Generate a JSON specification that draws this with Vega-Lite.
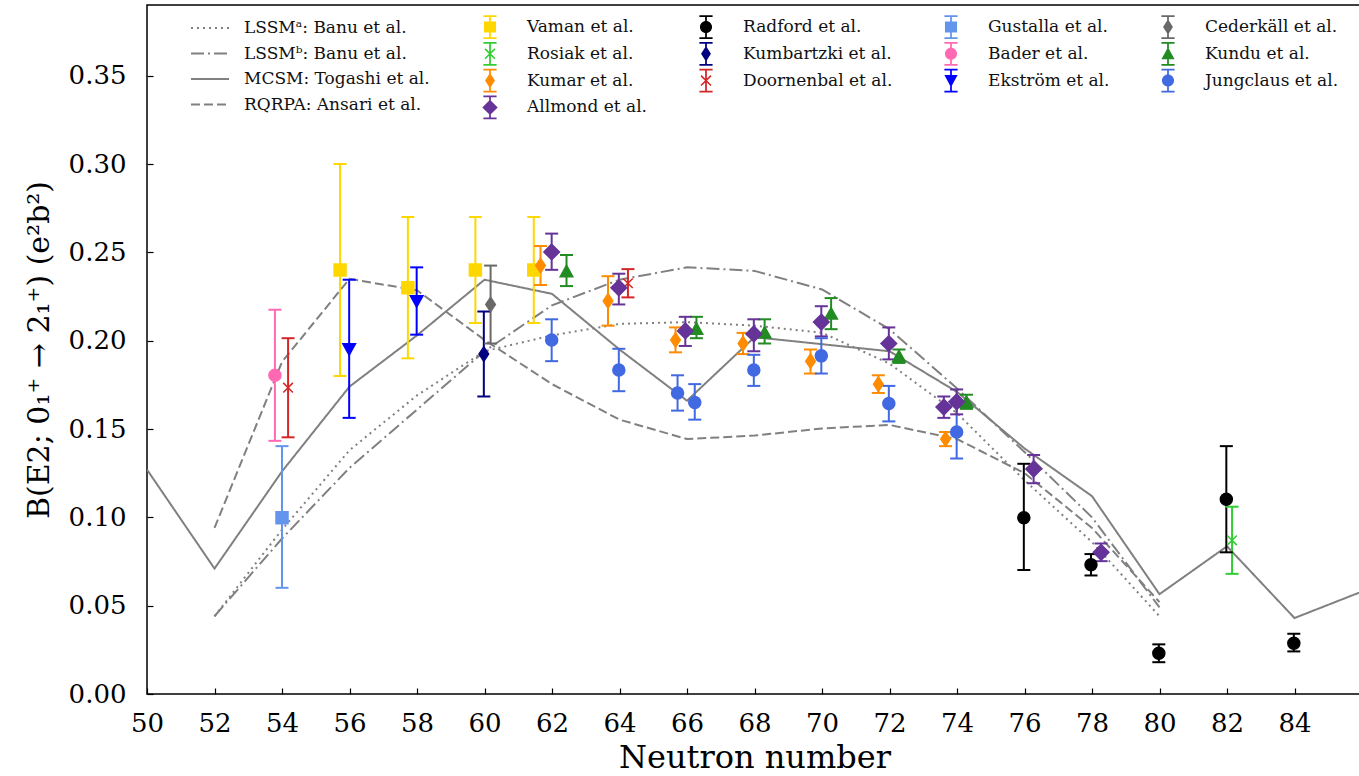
{
  "$schema": "https://vega.github.io/schema/vega-lite/v6.json",
  "width": 1215,
  "height": 689,
  "autosize": {"type": "none"},
  "padding": {"left": 147, "top": 5, "right": 0, "bottom": 82},
  "background": "white",
  "config": {
    "view": {"stroke": "black", "strokeWidth": 1.5},
    "font": "DejaVu Serif",
    "axis": {"grid": false, "domain": false, "ticks": true, "tickColor": "black", "tickSize": -6, "tickWidth": 1.2, "labelFlush": false,
      "labelFont": "DejaVu Serif", "labelFontSize": 26, "labelColor": "black",
      "titleFont": "DejaVu Serif", "titleFontWeight": "normal", "titleColor": "black"},
    "legend": {"labelFont": "DejaVu Serif", "labelFontSize": 17, "labelColor": "#111", "orient": "none", "padding": 0, "labelLimit": 400}
  },
  "datasets": {
    "theory": [
      {"model": "LSSMᵃ: Banu et al.", "N": 52, "B": 0.044},
      {"model": "LSSMᵃ: Banu et al.", "N": 54, "B": 0.093},
      {"model": "LSSMᵃ: Banu et al.", "N": 56, "B": 0.138},
      {"model": "LSSMᵃ: Banu et al.", "N": 58, "B": 0.169},
      {"model": "LSSMᵃ: Banu et al.", "N": 60, "B": 0.194},
      {"model": "LSSMᵃ: Banu et al.", "N": 62, "B": 0.203},
      {"model": "LSSMᵃ: Banu et al.", "N": 64, "B": 0.2095},
      {"model": "LSSMᵃ: Banu et al.", "N": 66, "B": 0.2105},
      {"model": "LSSMᵃ: Banu et al.", "N": 68, "B": 0.2085},
      {"model": "LSSMᵃ: Banu et al.", "N": 70, "B": 0.2045},
      {"model": "LSSMᵃ: Banu et al.", "N": 72, "B": 0.187},
      {"model": "LSSMᵃ: Banu et al.", "N": 74, "B": 0.159},
      {"model": "LSSMᵃ: Banu et al.", "N": 76, "B": 0.121},
      {"model": "LSSMᵃ: Banu et al.", "N": 78, "B": 0.086},
      {"model": "LSSMᵃ: Banu et al.", "N": 80, "B": 0.044},
      {"model": "LSSMᵇ: Banu et al.", "N": 52, "B": 0.044},
      {"model": "LSSMᵇ: Banu et al.", "N": 54, "B": 0.088},
      {"model": "LSSMᵇ: Banu et al.", "N": 56, "B": 0.128},
      {"model": "LSSMᵇ: Banu et al.", "N": 58, "B": 0.161},
      {"model": "LSSMᵇ: Banu et al.", "N": 60, "B": 0.194},
      {"model": "LSSMᵇ: Banu et al.", "N": 62, "B": 0.220},
      {"model": "LSSMᵇ: Banu et al.", "N": 64, "B": 0.2345},
      {"model": "LSSMᵇ: Banu et al.", "N": 66, "B": 0.2415},
      {"model": "LSSMᵇ: Banu et al.", "N": 68, "B": 0.2395},
      {"model": "LSSMᵇ: Banu et al.", "N": 70, "B": 0.229},
      {"model": "LSSMᵇ: Banu et al.", "N": 72, "B": 0.2065},
      {"model": "LSSMᵇ: Banu et al.", "N": 74, "B": 0.173},
      {"model": "LSSMᵇ: Banu et al.", "N": 76, "B": 0.137},
      {"model": "LSSMᵇ: Banu et al.", "N": 78, "B": 0.100},
      {"model": "LSSMᵇ: Banu et al.", "N": 80, "B": 0.049},
      {"model": "MCSM: Togashi et al.", "N": 50, "B": 0.127},
      {"model": "MCSM: Togashi et al.", "N": 52, "B": 0.071},
      {"model": "MCSM: Togashi et al.", "N": 54, "B": 0.126},
      {"model": "MCSM: Togashi et al.", "N": 56, "B": 0.174},
      {"model": "MCSM: Togashi et al.", "N": 58, "B": 0.203},
      {"model": "MCSM: Togashi et al.", "N": 60, "B": 0.2345},
      {"model": "MCSM: Togashi et al.", "N": 62, "B": 0.2265},
      {"model": "MCSM: Togashi et al.", "N": 64, "B": 0.195},
      {"model": "MCSM: Togashi et al.", "N": 66, "B": 0.166},
      {"model": "MCSM: Togashi et al.", "N": 68, "B": 0.202},
      {"model": "MCSM: Togashi et al.", "N": 70, "B": 0.198},
      {"model": "MCSM: Togashi et al.", "N": 72, "B": 0.194},
      {"model": "MCSM: Togashi et al.", "N": 74, "B": 0.171},
      {"model": "MCSM: Togashi et al.", "N": 76, "B": 0.139},
      {"model": "MCSM: Togashi et al.", "N": 78, "B": 0.112},
      {"model": "MCSM: Togashi et al.", "N": 80, "B": 0.0565},
      {"model": "MCSM: Togashi et al.", "N": 82, "B": 0.0836},
      {"model": "MCSM: Togashi et al.", "N": 84, "B": 0.043},
      {"model": "MCSM: Togashi et al.", "N": 86, "B": 0.058},
      {"model": "RQRPA: Ansari et al.", "N": 52, "B": 0.094},
      {"model": "RQRPA: Ansari et al.", "N": 54, "B": 0.188},
      {"model": "RQRPA: Ansari et al.", "N": 56, "B": 0.235},
      {"model": "RQRPA: Ansari et al.", "N": 58, "B": 0.2285},
      {"model": "RQRPA: Ansari et al.", "N": 60, "B": 0.2004},
      {"model": "RQRPA: Ansari et al.", "N": 62, "B": 0.1754},
      {"model": "RQRPA: Ansari et al.", "N": 64, "B": 0.1553},
      {"model": "RQRPA: Ansari et al.", "N": 66, "B": 0.1443},
      {"model": "RQRPA: Ansari et al.", "N": 68, "B": 0.1463},
      {"model": "RQRPA: Ansari et al.", "N": 70, "B": 0.1503},
      {"model": "RQRPA: Ansari et al.", "N": 72, "B": 0.1523},
      {"model": "RQRPA: Ansari et al.", "N": 74, "B": 0.1443},
      {"model": "RQRPA: Ansari et al.", "N": 76, "B": 0.125},
      {"model": "RQRPA: Ansari et al.", "N": 78, "B": 0.094},
      {"model": "RQRPA: Ansari et al.", "N": 80, "B": 0.052}
    ],
    "exp": [
      {"ref": "Vaman et al.", "N": 55.72, "B": 0.240, "lo": 0.180, "hi": 0.300},
      {"ref": "Vaman et al.", "N": 57.73, "B": 0.230, "lo": 0.190, "hi": 0.270},
      {"ref": "Vaman et al.", "N": 59.73, "B": 0.240, "lo": 0.210, "hi": 0.270},
      {"ref": "Vaman et al.", "N": 61.46, "B": 0.240, "lo": 0.210, "hi": 0.270},
      {"ref": "Rosiak et al.", "N": 82.15, "B": 0.087, "lo": 0.068, "hi": 0.106},
      {"ref": "Kumar et al.", "N": 61.66, "B": 0.2425, "lo": 0.2315, "hi": 0.2536},
      {"ref": "Kumar et al.", "N": 63.66, "B": 0.2225, "lo": 0.2085, "hi": 0.2365},
      {"ref": "Kumar et al.", "N": 65.66, "B": 0.2004, "lo": 0.1934, "hi": 0.2075},
      {"ref": "Kumar et al.", "N": 67.66, "B": 0.1984, "lo": 0.1924, "hi": 0.2044},
      {"ref": "Kumar et al.", "N": 69.66, "B": 0.1884, "lo": 0.1814, "hi": 0.1950},
      {"ref": "Kumar et al.", "N": 71.67, "B": 0.1754, "lo": 0.1704, "hi": 0.1804},
      {"ref": "Kumar et al.", "N": 73.66, "B": 0.1443, "lo": 0.1403, "hi": 0.1483},
      {"ref": "Radford et al.", "N": 75.98, "B": 0.0998, "lo": 0.0702, "hi": 0.1303},
      {"ref": "Radford et al.", "N": 77.97, "B": 0.0732, "lo": 0.0671, "hi": 0.0792},
      {"ref": "Radford et al.", "N": 79.98, "B": 0.0231, "lo": 0.0180, "hi": 0.0281},
      {"ref": "Radford et al.", "N": 81.98, "B": 0.1102, "lo": 0.0802, "hi": 0.1403},
      {"ref": "Radford et al.", "N": 83.98, "B": 0.0287, "lo": 0.0241, "hi": 0.0341},
      {"ref": "Kumbartzki et al.", "N": 59.98, "B": 0.1924, "lo": 0.1684, "hi": 0.2165},
      {"ref": "Doornenbal et al.", "N": 54.18, "B": 0.1734, "lo": 0.1453, "hi": 0.2014},
      {"ref": "Doornenbal et al.", "N": 64.25, "B": 0.2325, "lo": 0.2245, "hi": 0.2405},
      {"ref": "Gustalla et al.", "N": 54.0, "B": 0.0998, "lo": 0.0601, "hi": 0.1403},
      {"ref": "Bader et al.", "N": 53.79, "B": 0.1804, "lo": 0.1433, "hi": 0.2175},
      {"ref": "Ekström et al.", "N": 55.99, "B": 0.1954, "lo": 0.1563, "hi": 0.2345},
      {"ref": "Ekström et al.", "N": 57.99, "B": 0.2225, "lo": 0.2034, "hi": 0.2415},
      {"ref": "Cederkäll et al.", "N": 60.18, "B": 0.2205, "lo": 0.1984, "hi": 0.2425},
      {"ref": "Kundu et al.", "N": 62.43, "B": 0.2391, "lo": 0.2309, "hi": 0.2485},
      {"ref": "Kundu et al.", "N": 66.28, "B": 0.2065, "lo": 0.2014, "hi": 0.2135},
      {"ref": "Kundu et al.", "N": 68.30, "B": 0.2044, "lo": 0.1984, "hi": 0.2121},
      {"ref": "Kundu et al.", "N": 70.27, "B": 0.2151, "lo": 0.2065, "hi": 0.2241},
      {"ref": "Kundu et al.", "N": 72.28, "B": 0.1910, "lo": 0.1874, "hi": 0.1950},
      {"ref": "Kundu et al.", "N": 74.28, "B": 0.1650, "lo": 0.1614, "hi": 0.1694},
      {"ref": "Jungclaus et al.", "N": 61.99, "B": 0.2004, "lo": 0.1884, "hi": 0.2121},
      {"ref": "Jungclaus et al.", "N": 63.98, "B": 0.1834, "lo": 0.1714, "hi": 0.1954},
      {"ref": "Jungclaus et al.", "N": 65.72, "B": 0.1704, "lo": 0.1604, "hi": 0.1804},
      {"ref": "Jungclaus et al.", "N": 66.23, "B": 0.1650, "lo": 0.1553, "hi": 0.1754},
      {"ref": "Jungclaus et al.", "N": 67.98, "B": 0.1834, "lo": 0.1744, "hi": 0.1920},
      {"ref": "Jungclaus et al.", "N": 69.98, "B": 0.1914, "lo": 0.1814, "hi": 0.2014},
      {"ref": "Jungclaus et al.", "N": 71.98, "B": 0.1644, "lo": 0.1543, "hi": 0.1744},
      {"ref": "Jungclaus et al.", "N": 73.99, "B": 0.1483, "lo": 0.1333, "hi": 0.1634},
      {"ref": "Allmond et al.", "N": 61.99, "B": 0.2502, "lo": 0.2401, "hi": 0.2606},
      {"ref": "Allmond et al.", "N": 63.98, "B": 0.2299, "lo": 0.2205, "hi": 0.2379},
      {"ref": "Allmond et al.", "N": 65.95, "B": 0.2055, "lo": 0.1970, "hi": 0.2135},
      {"ref": "Allmond et al.", "N": 67.98, "B": 0.2038, "lo": 0.1940, "hi": 0.2121},
      {"ref": "Allmond et al.", "N": 69.98, "B": 0.2105, "lo": 0.2024, "hi": 0.2195},
      {"ref": "Allmond et al.", "N": 71.98, "B": 0.1984, "lo": 0.1894, "hi": 0.2075},
      {"ref": "Allmond et al.", "N": 73.61, "B": 0.1624, "lo": 0.1563, "hi": 0.1684},
      {"ref": "Allmond et al.", "N": 73.99, "B": 0.1654, "lo": 0.1583, "hi": 0.1724},
      {"ref": "Allmond et al.", "N": 76.27, "B": 0.1273, "lo": 0.1193, "hi": 0.1353},
      {"ref": "Allmond et al.", "N": 78.27, "B": 0.0802, "lo": 0.0752, "hi": 0.0852}
    ]
  },
  "layer": [
    {
      "data": {"name": "theory"},
      "mark": {"type": "line", "color": "#808080", "strokeWidth": 2, "clip": true},
      "encoding": {
        "x": {"field": "N", "type": "quantitative", "scale": {"domain": [50, 86], "nice": false, "zero": false},
          "axis": {"values": [50,52,54,56,58,60,62,64,66,68,70,72,74,76,78,80,82,84], "labelPadding": 22, "title": "Neutron number", "titleFontSize": 32, "titlePadding": 6}},
        "y": {"field": "B", "type": "quantitative", "scale": {"domain": [0, 0.39], "nice": false, "zero": false},
          "axis": {"values": [0, 0.05, 0.1, 0.15, 0.2, 0.25, 0.3, 0.35], "format": ".2f", "labelPadding": 27, "title": "B(E2; 0₁⁺ → 2₁⁺)  (e²b²)", "titleFontSize": 30, "titlePadding": 14}},
        "strokeDash": {"field": "model", "type": "nominal",
          "scale": {"domain": ["LSSMᵃ: Banu et al.", "LSSMᵇ: Banu et al.", "MCSM: Togashi et al.", "RQRPA: Ansari et al."],
            "range": [[2, 4], [13, 4, 2, 4], [1, 0], [9, 4]]},
          "legend": {"title": null, "legendX": 52, "legendY": 12, "symbolType": "M-1.9,0H1.9", "symbolSize": 400,
            "symbolStrokeColor": "#808080", "symbolStrokeWidth": 2, "labelOffset": 23, "rowPadding": 6.5, "labelFont": "DejaVu Serif", "labelFontSize": 17}}
      }
    },
    {
      "data": {"name": "exp"},
      "mark": {"type": "rule", "strokeWidth": 2},
      "encoding": {
        "x": {"field": "N", "type": "quantitative"},
        "y": {"field": "lo", "type": "quantitative"},
        "y2": {"field": "hi"},
        "stroke": {"field": "ref", "type": "nominal", "legend": null,
          "scale": {"domain": ["Vaman et al.", "Rosiak et al.", "Radford et al.", "Kundu et al.", "Kumbartzki et al.", "Kumar et al.", "Jungclaus et al.", "Gustalla et al.", "Ekström et al.", "Doornenbal et al.", "Cederkäll et al.", "Bader et al.", "Allmond et al."],
            "range": ["#FFD700", "#32CD32", "#000000", "#228B22", "#000080", "#FF8C00", "#4169E1", "#6495ED", "#0000FF", "#D62728", "#696969", "#FF69B4", "#663399"]}}
      }
    },
    {
      "data": {"name": "exp"},
      "mark": {"type": "point", "shape": "stroke", "size": 169, "filled": false, "strokeWidth": 2, "opacity": 1},
      "encoding": {
        "x": {"field": "N", "type": "quantitative"},
        "y": {"field": "lo", "type": "quantitative"},
        "stroke": {"field": "ref", "type": "nominal", "legend": null}
      }
    },
    {
      "data": {"name": "exp"},
      "mark": {"type": "point", "shape": "stroke", "size": 169, "filled": false, "strokeWidth": 2, "opacity": 1},
      "encoding": {
        "x": {"field": "N", "type": "quantitative"},
        "y": {"field": "hi", "type": "quantitative"},
        "stroke": {"field": "ref", "type": "nominal", "legend": null}
      }
    },
    {
      "data": {"name": "exp"},
      "mark": {"type": "point", "filled": true, "size": 144, "strokeWidth": 1.5, "opacity": 1},
      "encoding": {
        "x": {"field": "N", "type": "quantitative"},
        "y": {"field": "B", "type": "quantitative"},
        "color": {"field": "ref", "type": "nominal",
          "scale": {"domain": ["Vaman et al.", "Rosiak et al.", "Kundu et al.", "Ekström et al.", "Radford et al.", "Kumbartzki et al.", "Kumar et al.", "Jungclaus et al.", "Gustalla et al.", "Bader et al.", "Doornenbal et al.", "Allmond et al.", "Cederkäll et al."],
            "range": ["#FFD700", "#32CD32", "#228B22", "#0000FF", "#000000", "#000080", "#FF8C00", "#4169E1", "#6495ED", "#FF69B4", "#D62728", "#663399", "#696969"]},
          "legend": {"title": null, "columns": 4, "legendX": 332, "legendY": 11, "symbolSize": 484, "symbolStrokeWidth": 0,
            "labelOffset": 26, "rowPadding": 2.8, "columnPadding": 47, "labelFont": "DejaVu Serif", "labelFontSize": 17,
            "symbolType": {"expr": "(datum.value === 'Vaman et al.' || datum.value === 'Gustalla et al.') ? 'M-0.6,-1.08H0.6V-0.92H-0.6ZM-0.6,0.92H0.6V1.08H-0.6ZM-0.08,-1H0.08V1H-0.08ZM-0.55,-0.5H0.55V0.5H-0.55Z' : (datum.value === 'Cederkäll et al.' || datum.value === 'Kumbartzki et al.' || datum.value === 'Kumar et al.') ? 'M-0.6,-1.08H0.6V-0.92H-0.6ZM-0.6,0.92H0.6V1.08H-0.6ZM-0.08,-1H0.08V1H-0.08ZM0,-0.7L0.45,0L0,0.7L-0.45,0Z' : datum.value === 'Allmond et al.' ? 'M-0.6,-1.08H0.6V-0.92H-0.6ZM-0.6,0.92H0.6V1.08H-0.6ZM-0.08,-1H0.08V1H-0.08ZM0,-0.7L0.7,0L0,0.7L-0.7,0Z' : (datum.value === 'Rosiak et al.' || datum.value === 'Doornenbal et al.') ? 'M-0.6,-1.08H0.6V-0.92H-0.6ZM-0.6,0.92H0.6V1.08H-0.6ZM-0.08,-1H0.08V1H-0.08ZM-0.4,-0.5L0.5,0.4L0.4,0.5L-0.5,-0.4ZM-0.4,0.5L-0.5,0.4L0.4,-0.5L0.5,-0.4Z' : datum.value === 'Ekström et al.' ? 'M-0.6,-1.08H0.6V-0.92H-0.6ZM-0.6,0.92H0.6V1.08H-0.6ZM-0.08,-1H0.08V1H-0.08ZM-0.6,-0.5H0.6L0,0.6Z' : datum.value === 'Kundu et al.' ? 'M-0.6,-1.08H0.6V-0.92H-0.6ZM-0.6,0.92H0.6V1.08H-0.6ZM-0.08,-1H0.08V1H-0.08ZM-0.6,0.5L0,-0.6L0.6,0.5Z' : 'M-0.6,-1.08H0.6V-0.92H-0.6ZM-0.6,0.92H0.6V1.08H-0.6ZM-0.08,-1H0.08V1H-0.08ZM-0.55,0A0.55,0.55 0 1,1 0.55,0A0.55,0.55 0 1,1 -0.55,0Z'"}}},
        "shape": {"field": "ref", "type": "nominal", "legend": null,
          "scale": {"domain": ["Allmond et al.", "Bader et al.", "Cederkäll et al.", "Doornenbal et al.", "Ekström et al.", "Gustalla et al.", "Jungclaus et al.", "Kumar et al.", "Kumbartzki et al.", "Kundu et al.", "Radford et al.", "Rosiak et al.", "Vaman et al."],
            "range": ["M0,-1.3L1.3,0L0,1.3L-1.3,0Z", "circle", "M0,-1.2L0.8,0L0,1.2L-0.8,0Z", "M-0.8,-0.8L0.8,0.8M-0.8,0.8L0.8,-0.8", "M-1.05,-0.85H1.05L0,1.05Z", "square", "circle", "M0,-1.2L0.8,0L0,1.2L-0.8,0Z", "M0,-1.2L0.8,0L0,1.2L-0.8,0Z", "M-1.05,0.85H1.05L0,-1.05Z", "circle", "M-0.8,-0.8L0.8,0.8M-0.8,0.8L0.8,-0.8", "square"]}},
        "stroke": {"field": "ref", "type": "nominal", "legend": null}
      }
    }
  ]
}
